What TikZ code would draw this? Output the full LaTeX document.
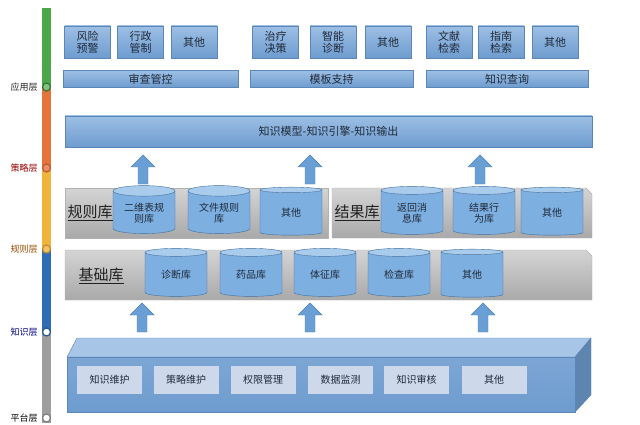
\documentclass[tikz,border=0pt]{standalone}
\usepackage{fontspec}
\newfontfamily\cjk{Noto Sans CJK SC}
\usetikzlibrary{shapes.geometric,positioning}
\definecolor{boxtop}{HTML}{9DBFE4}
\definecolor{boxbot}{HTML}{6E9CCF}
\definecolor{boxline}{HTML}{5A86B8}
\definecolor{cyltop}{HTML}{A9CBEC}
\definecolor{cylbody}{HTML}{7DAFE0}
\definecolor{cylline}{HTML}{3F6E9E}
\definecolor{arrfill}{HTML}{6A9FD6}
\definecolor{arrline}{HTML}{4D80B8}
\definecolor{inner}{HTML}{CDD8EB}
\definecolor{bandtop}{HTML}{D4D4D4}
\definecolor{bandbot}{HTML}{A9A9A9}
\definecolor{barg}{HTML}{4EA64A}
\definecolor{baro}{HTML}{E5733C}
\definecolor{bary}{HTML}{F0B43C}
\definecolor{barb}{HTML}{2E6DB4}
\definecolor{bargr}{HTML}{9E9E9E}
\definecolor{txt}{HTML}{1F2A3A}

\begin{document}
\begin{tikzpicture}[
  x=1pt,y=-1pt,
  font=\cjk\fontsize{10}{12}\selectfont,
  every node/.append style={text=txt},
  app/.style={draw=boxline, top color=boxtop, bottom color=boxbot, minimum width=46pt, minimum height=32pt, inner sep=0pt, align=center, font=\cjk\fontsize{11}{12}\selectfont},
  strip/.style={draw=boxline, top color=boxtop, bottom color=boxbot, minimum height=17pt, inner sep=0pt, font=\cjk\fontsize{11}{12}\selectfont},
  db/.style={cylinder, shape border rotate=90, aspect=0.25, draw=cylline, cylinder uses custom fill, cylinder body fill=cylbody, cylinder end fill=cyltop, minimum width=62pt, minimum height=48pt, inner sep=1pt, align=center, font=\cjk\fontsize{10}{11.5}\selectfont},
  tool/.style={fill=inner, minimum width=65pt, minimum height=28pt, inner sep=0pt, font=\cjk\fontsize{10}{12}\selectfont},
  band/.style={draw=gray!60, top color=bandtop, bottom color=bandbot},
  lib/.style={font=\cjk\fontsize{15}{16}\selectfont, text=gray!25!black},
  lay/.style={font=\cjk\fontsize{9}{10}\selectfont, inner sep=1pt},
  dot/.style={circle, minimum size=8pt, inner sep=0pt, line width=1.2pt},
  pics/blockup/.style={code={
    \draw[draw=arrline, fill=arrfill] (-5,15) -- (-5,-2) -- (-12,-2) -- (0,-14)
      -- (12,-2) -- (5,-2) -- (5,15) -- cycle;}},
]
\useasboundingbox (0,0) rectangle (640,425);

% Layer bar
\fill[barg] (42,8) rectangle (51,87);
\fill[baro] (42,87) rectangle (51,168);
\fill[bary] (42,168) rectangle (51,249);
\fill[barb] (42,249) rectangle (51,332);
\fill[bargr] (42,332) rectangle (51,423);
\node[dot, draw=barg!70!black, fill=barg!70] (l1) at (46.5,87) {};
\node[dot, draw=baro!80!black, fill=baro!80] (l2) at (46.5,168) {};
\node[dot, draw=bary!80!black, fill=bary!80] (l3) at (46.5,249) {};
\node[dot, draw=barb!80!black, fill=white] (l4) at (46.5,332) {};
\node[dot, draw=bargr!80!black, fill=white] (l5) at (46.5,418) {};
\node[lay, left=3pt of l1, text=gray!30!black] {应用层};
\node[lay, left=3pt of l2, text=red!60!black] {策略层};
\node[lay, left=3pt of l3, text=orange!60!black] {规则层};
\node[lay, left=3pt of l4, text=blue!50!black] {知识层};
\node[lay, left=3pt of l5, text=black] {平台层};

% Application layer
\foreach \n/\x/\t in {a1/87.5/风险\\预警, a2/140.5/行政\\管制, a3/194/其他,
                      a4/275.5/治疗\\决策, a5/333/智能\\诊断, a6/388/其他,
                      a7/449/文献\\检索, a8/501/指南\\检索, a9/555/其他}
  \node[app] (\n) at (\x,42) {\t};
\node[strip, minimum width=175pt] (s1) at (150.5,79) {审查管控};
\node[strip, minimum width=163pt] (s2) at (331.5,79) {模板支持};
\node[strip, minimum width=162pt] (s3) at (507,79) {知识查询};

% Strategy layer
\node[strip, minimum width=527pt, minimum height=31pt] (engine) at (328.5,131.5) {知识模型-知识引擎-知识输出};
\foreach \x in {143, 310, 480}
  \pic at (\x,169) {blockup};

% Rule layer
\draw[band] (65,188) rectangle (328,238);
\draw[band] (332,188) -- (586,188) -- (592,194) -- (592,238) -- (332,238) -- cycle;
\node[lib, anchor=west] (rlib) at (64,213) {\underline{规则库}};
\node[lib, anchor=west] (olib) at (331,213) {\underline{结果库}};
\foreach \n/\x/\t in {r1/144/二维表规\\则库, r2/219/文件规则\\库, r3/291/其他,
                      r4/412/返回消\\息库, r5/484/结果行\\为库, r6/552/其他}
  \node[db] (\n) at (\x,213) {\t};

% Knowledge layer
\draw[band] (65,250) -- (586,250) -- (592,256) -- (592,300) -- (65,300) -- cycle;
\node[lib, anchor=west] (blib) at (75,276) {\underline{基础库}};
\foreach \n/\x/\t in {k1/176/诊断库, k2/251/药品库, k3/325/体征库, k4/399/检查库, k5/472/其他}
  \node[db] (\n) at (\x,275) {\t};
\foreach \x in {142, 310, 483}
  \pic at (\x,317) {blockup};

% Platform layer
\fill[boxtop!90!white, draw=boxline] (67,357) -- (77,338) -- (591,338) -- (575,357) -- cycle;
\fill[boxbot!85!black, draw=boxline] (575,357) -- (591,338) -- (591,395) -- (575,412) -- cycle;
\node[draw=boxline, top color=boxbot!90!white, bottom color=boxbot, minimum width=508pt, minimum height=55pt, anchor=north west, inner sep=0pt] (plat) at (67,357) {};
\foreach \n/\x/\t in {p1/109.5/知识维护, p2/186/策略维护, p3/263/权限管理,
                      p4/340.5/数据监测, p5/416.5/知识审核, p6/494/其他}
  \node[tool] (\n) at (\x,380) {\t};

\end{tikzpicture}
\end{document}
